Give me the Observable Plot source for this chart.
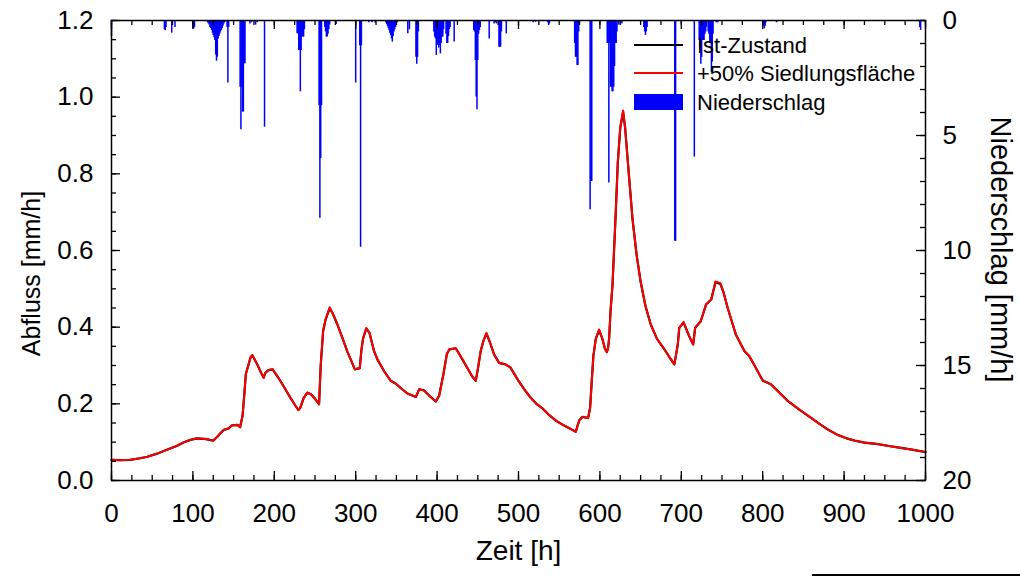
<!DOCTYPE html>
<html><head><meta charset="utf-8">
<script src="https://cdn.jsdelivr.net/npm/d3@7"></script>
<script src="https://cdn.jsdelivr.net/npm/@observablehq/plot@0.6"></script>
<style>
html,body{margin:0;padding:0;background:#fff;}
#wrap{position:relative;width:1020px;height:578px;overflow:hidden;font-family:"Liberation Sans",Arial,sans-serif;}
.lg-line{position:absolute;left:634px;width:49px;height:2px;}
.lg-text{position:absolute;left:697px;font-size:22px;line-height:22px;color:#000;white-space:nowrap;}
</style></head><body>
<div id="wrap"></div>
<script>
// ---- data ----
const zeit = [0,10,23,35,44,56,68,80,89,97,105,116,125,130,134,138,144,148,155,158,161,163,165,168,171,173,176,179,184,187,189,193,198,205,212,220,226,229.5,232,236,240.5,245,249,255,257,259,260,263,268,272,277.5,284,290,295,299,305,307,309,313,317,322.5,326.6,335,343,349,356,363.5,374,378,384,391,398.5,402.5,408,412,415,423,430,437,443,447.5,450,453.6,457,460.6,465,470,476,484,490,500,508,515,522,529,537,546,553,560,566,570.4,572.5,575,578.6,585.5,588,590,592,595,599,603,606,608.5,610,611.4,613,615.5,619.5,622,625,628.5,631,634,640,645,650,656,662.5,670,679,686,691.5,695.7,697.5,702.8,709.6,714.6,717,724,730.4,736.8,742,748,752,757,767,777.5,783.4,790,800,810,820,830.6,845,859,871.5,880,892,903,913,925,941.5,955,970,985,1000];
const istZustand = [0.054,0.053,0.054,0.058,0.062,0.07,0.08,0.09,0.1,0.106,0.11,0.108,0.104,0.114,0.124,0.132,0.136,0.144,0.145,0.139,0.169,0.22,0.277,0.3,0.322,0.327,0.315,0.303,0.28,0.268,0.281,0.288,0.29,0.268,0.244,0.215,0.195,0.184,0.19,0.215,0.229,0.225,0.216,0.199,0.3,0.36,0.39,0.42,0.449,0.435,0.407,0.37,0.335,0.31,0.29,0.293,0.34,0.37,0.396,0.385,0.338,0.316,0.285,0.26,0.253,0.24,0.227,0.218,0.238,0.235,0.22,0.206,0.221,0.28,0.33,0.342,0.345,0.32,0.294,0.272,0.26,0.29,0.338,0.365,0.383,0.36,0.329,0.307,0.303,0.295,0.26,0.235,0.216,0.2,0.189,0.172,0.156,0.147,0.139,0.132,0.127,0.143,0.158,0.166,0.163,0.19,0.26,0.325,0.37,0.392,0.37,0.345,0.335,0.345,0.372,0.44,0.511,0.7,0.83,0.92,0.962,0.92,0.84,0.684,0.59,0.519,0.455,0.407,0.37,0.343,0.32,0.303,0.355,0.398,0.412,0.377,0.355,0.398,0.416,0.459,0.472,0.517,0.513,0.49,0.45,0.381,0.338,0.325,0.3,0.261,0.251,0.23,0.208,0.185,0.164,0.145,0.133,0.119,0.11,0.104,0.099,0.095,0.09,0.085,0.08,0.074];
const siedlung50 = [0.054,0.053,0.054,0.058,0.062,0.07,0.08,0.09,0.1,0.106,0.11,0.108,0.104,0.114,0.124,0.132,0.136,0.144,0.145,0.139,0.169,0.22,0.277,0.3,0.322,0.327,0.315,0.303,0.28,0.268,0.281,0.288,0.29,0.268,0.244,0.215,0.195,0.184,0.19,0.215,0.229,0.225,0.216,0.199,0.3,0.36,0.39,0.42,0.452,0.435,0.407,0.37,0.335,0.31,0.29,0.293,0.34,0.37,0.398,0.385,0.338,0.316,0.285,0.26,0.253,0.24,0.227,0.218,0.238,0.235,0.22,0.206,0.221,0.28,0.33,0.342,0.345,0.32,0.294,0.272,0.26,0.29,0.338,0.365,0.385,0.36,0.329,0.307,0.303,0.295,0.26,0.235,0.216,0.2,0.189,0.172,0.156,0.147,0.139,0.132,0.127,0.143,0.158,0.166,0.163,0.19,0.26,0.325,0.37,0.394,0.37,0.345,0.335,0.345,0.372,0.44,0.511,0.7,0.83,0.92,0.965,0.92,0.84,0.684,0.59,0.519,0.455,0.407,0.37,0.343,0.32,0.303,0.355,0.398,0.414,0.377,0.355,0.398,0.416,0.459,0.472,0.519,0.515,0.49,0.45,0.381,0.338,0.325,0.3,0.261,0.251,0.23,0.208,0.185,0.164,0.145,0.133,0.119,0.11,0.104,0.099,0.095,0.09,0.085,0.08,0.074];

const regenZeit = [0,65,66,67,74,78,100,101,102,118,119,120,121,122,123,124,125,126,127,128,129,130,131,132,133,134,135,136,137,138,139,142,143,144,158,159,160,161,162,163,164,170,172,177,179,188,228,229,230,231,232,233,234,235,236,237,255,256,257,258,262,263,264,265,266,267,268,276,300,305,306,307,316,320,324,337,338,339,340,341,342,343,344,345,346,347,348,349,350,351,364,366,374,375,376,377,396,397,398,399,400,401,402,403,404,405,406,407,408,411,412,413,414,415,416,421,445,446,447,448,449,450,451,452,453,464,470,472,473,476,477,478,479,485,518,521,536,537,538,569,570,571,572,573,574,588,589,590,609,610,611,612,613,614,615,616,617,618,619,620,621,623,625,627,654,655,656,657,658,692,693,716,722,723,724,725,726,727,728,729,730,731,733,734,735,736,737,738,739,743,745,800,801,802,803,804,817,993,994];
const regenWert = [0.7,0.4,0.45,0.3,0.55,0.3,0.36,0.36,0.3,0.1,0.15,0.2,0.3,0.35,0.43,0.55,0.65,0.75,0.87,1.5,1.77,1.6,0.8,0.7,0.6,0.5,0.43,0.35,0.25,0.15,0.1,0.3,2.72,0.3,2.9,4.75,2.9,3.98,3.98,1.88,1.88,0.15,0.1,0.2,0.1,4.64,0.58,0.58,1.3,1.3,3.1,1.3,0.72,0.72,0.72,0.4,3.7,8.6,6.0,3.7,0.3,0.5,0.72,0.72,0.6,0.4,0.2,0.17,2.72,1.1,9.86,1.1,0.1,0.1,0.12,0.1,0.17,0.25,0.35,0.45,0.55,0.65,0.8,0.94,0.7,0.5,0.4,0.3,0.2,0.1,0.58,0.4,1.6,1.9,1.6,0.5,0.5,0.72,0.8,1.52,1.0,1.09,1.2,1.09,1.45,1.0,0.72,0.72,0.4,0.6,1.0,1.0,0.7,0.4,0.3,0.94,0.43,0.5,1.74,3.33,3.88,1.74,0.6,0.43,0.3,0.8,0.15,0.1,0.15,1.16,1.16,1.16,0.5,0.58,0.1,0.08,0.1,0.22,0.15,1.0,1.6,1.6,1.96,1.96,0.5,8.23,7.0,7.0,1.0,1.0,7.06,1.0,2.9,2.9,3.1,3.1,2.9,2.0,1.0,1.0,0.5,0.2,0.1,0.15,0.3,0.5,0.65,0.5,0.3,9.6,9.6,5.94,0.87,1.3,1.9,1.6,0.87,0.87,0.87,0.6,0.5,0.3,0.5,0.6,1.0,1.0,2.25,1.8,0.6,0.1,0.1,0.15,0.25,0.36,0.25,0.1,0.1,0.3,0.43];

const xTicks = [0,100,200,300,400,500,600,700,800,900,1000];
const yTicks = [0,0.2,0.4,0.6,0.8,1.0,1.2];
const regenTicks = [0,5,10,15,20];
const abflussMax = 1.2, regenMax = 20, zeitMax = 1000;

// ---- build ----
const abfluss = zeit.map((t, i) => ({t, ist: istZustand[i], neu: siedlung50[i]}));
const regen = regenZeit.map((t, i) => ({t, p: regenWert[i]}));
const toY = p => abflussMax * (1 - p / regenMax);   // precipitation axis hangs from the top
const FS = 26;
const font = "Liberation Sans, Arial, Helvetica, sans-serif";

const W = 1020, H = 578, mL = 111, mR = 95, mT = 20, mB = 98;
const fw = W - mL - mR, fh = H - mT - mB;   // frame size in px
// inward tick lengths, converted from px to data units
const vLen = px => px * abflussMax / fh;     // vertical tick length (y units)
const hLen = px => px * zeitMax / fw;        // horizontal tick length (x units)
const MAJ = 9, MIN = 5;
const tk = {stroke: "black", strokeWidth: 1.3};
const xMinor = d3.range(0, zeitMax + 1, 25);
const yMinor = d3.range(0, 25).map(i => i * 0.05);
const rMinor = d3.range(0, 21).map(toY), rMajor = regenTicks.map(toY);

const chart = Plot.plot({
  width: W, height: H,
  marginLeft: mL, marginRight: mR, marginTop: mT, marginBottom: mB,
  x: {domain: [0, zeitMax]},
  y: {domain: [0, abflussMax]},
  style: {fontFamily: font, fontSize: FS + "px", color: "black", background: "white", overflow: "visible"},
  marks: [
    Plot.ruleX(regen, {x: "t", y1: abflussMax, y2: d => toY(d.p), stroke: "#0000ff", strokeWidth: 1.5}),
    Plot.line(abfluss, {x: "t", y: "ist", stroke: "black", strokeWidth: 2.2}),
    Plot.line(abfluss, {x: "t", y: "neu", stroke: "#ff0000", strokeWidth: 2}),
    Plot.frame({stroke: "black", strokeWidth: 1.5}),
    // inward ticks: bottom / top
    Plot.ruleX(xMinor, {x: d => d, y1: 0, y2: vLen(MIN), ...tk}),
    Plot.ruleX(xTicks, {x: d => d, y1: 0, y2: vLen(MAJ), ...tk}),
    Plot.ruleX(xMinor, {x: d => d, y1: abflussMax, y2: abflussMax - vLen(MIN), ...tk}),
    Plot.ruleX(xTicks, {x: d => d, y1: abflussMax, y2: abflussMax - vLen(MAJ), ...tk}),
    // left / right
    Plot.ruleY(yMinor, {y: d => d, x1: 0, x2: hLen(MIN), ...tk}),
    Plot.ruleY(yTicks, {y: d => d, x1: 0, x2: hLen(MAJ), ...tk}),
    Plot.ruleY(rMinor, {y: d => d, x1: zeitMax, x2: zeitMax - hLen(MIN), ...tk}),
    Plot.ruleY(rMajor, {y: d => d, x1: zeitMax, x2: zeitMax - hLen(MAJ), ...tk}),
    // tick labels
    Plot.axisX({anchor: "bottom", ticks: xTicks, tickSize: 0, tickPadding: 23, tickFormat: d => String(d), label: null, fontSize: FS}),
    Plot.axisY({anchor: "left", ticks: yTicks, tickSize: 0, tickPadding: 18, tickFormat: d3.format(".1f"), label: null, fontSize: FS}),
    Plot.axisY({anchor: "right", ticks: rMajor, tickSize: 0, tickPadding: 17,
      tickFormat: v => String(Math.round(regenMax * (1 - v / abflussMax))), label: null, fontSize: FS}),
    // axis titles
    Plot.text(["Zeit [h]"], {text: d => d, frameAnchor: "bottom", textAnchor: "middle", dy: 79, fontSize: 28, fill: "black"}),
    Plot.text(["Abfluss [mm/h]"], {text: d => d, frameAnchor: "left", textAnchor: "middle", dx: -80, dy: 23, rotate: -90, fontSize: 25, fill: "black"}),
    Plot.text(["Niederschlag [mm/h]"], {text: d => d, frameAnchor: "right", textAnchor: "middle", dx: 75, dy: -1, rotate: 90, fontSize: 29, fill: "black"})
  ]
});

const wrap = document.getElementById("wrap");
wrap.appendChild(chart);

// legend (inside the plot area, top right)
const legend = [
  {label: "Ist-Zustand", kind: "line", color: "black", y: 44, ty: 34.5},
  {label: "+50% Siedlungsfläche", kind: "line", color: "#ff0000", y: 72, ty: 63},
  {label: "Niederschlag", kind: "box", color: "#0000ff", y: 94, ty: 91.5}
];
legend.forEach(l => {
  const s = document.createElement("div");
  if (l.kind === "line") {
    s.className = "lg-line";
    s.style.top = l.y + "px";
    s.style.background = l.color;
  } else {
    s.style.cssText = `position:absolute;left:634px;top:${l.y}px;width:49px;height:16px;background:${l.color}`;
  }
  wrap.appendChild(s);
  const t = document.createElement("div");
  t.className = "lg-text";
  t.style.top = l.ty + "px";
  t.textContent = l.label;
  wrap.appendChild(t);
});

// short rule at the lower right edge of the picture
const r = document.createElement("div");
r.style.cssText = "position:absolute;left:812px;top:574px;width:208px;height:2px;background:#000";
wrap.appendChild(r);
</script>
</body></html>
